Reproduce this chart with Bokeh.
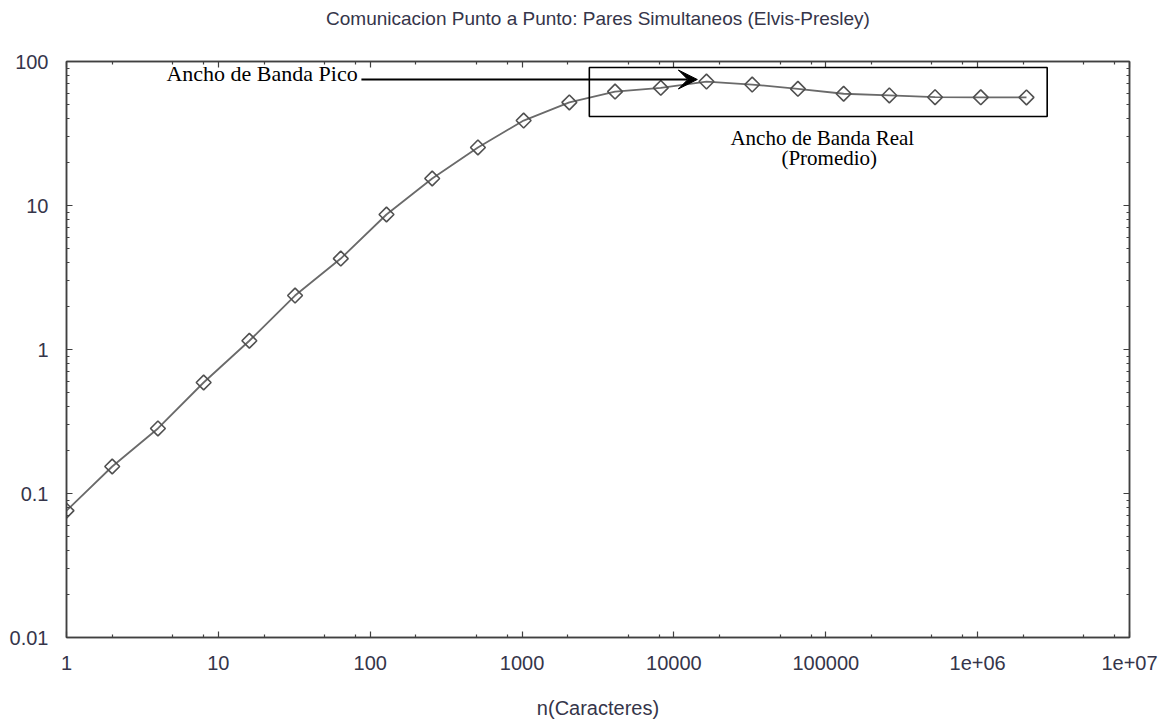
import math
from bokeh.plotting import figure
from bokeh.models import FixedTicker, LogAxis, BoxAnnotation, Arrow, VeeHead, Label, Title
from bokeh.embed import file_html
from bokeh.resources import INLINE

# ---- data ----
sizes = [1, 2, 4, 8, 16, 32, 64, 128, 256, 512, 1024, 2048, 4096, 8192,
         16384, 32768, 65536, 131072, 262144, 524288, 1048576, 2097152]
bandwidth = [0.076, 0.154, 0.283, 0.59, 1.15, 2.37, 4.28, 8.66, 15.4, 25.3,
             38.9, 52.0, 61.8, 65.6, 72.6, 69.2, 64.6, 59.7, 58.1, 56.5,
             56.4, 56.3]

x_ticks = [1, 10, 100, 1000, 10000, 100000, 1000000, 10000000]
x_tick_labels = ["1", "10", "100", "1000", "10000", "100000", "1e+06", "1e+07"]
y_ticks = [0.01, 0.1, 1, 10, 100]
y_tick_labels = ["0.01", "0.1", "1", "10", "100"]

title_text = "Comunicacion Punto a Punto: Pares Simultaneos (Elvis-Presley)"
x_label = "n(Caracteres)"
peak_label = "Ancho de Banda Pico"
real_label_1 = "Ancho de Banda Real"
real_label_2 = "(Promedio)"

# annotation anchor points (data coordinates)
peak_text_pos = (4.55, 83.0)
arrow_start = (87.5, 75.0)
arrow_end = (14260, 75.0)
box_x = (2773, 2870000)
box_y = (41.5, 90.9)
real1_pos = (94800, 29.2)
real2_pos = (105400, 21.5)

x_minor = [m * d for d in x_ticks[:-1] for m in (2, 5, 8)]
y_minor = [m * d for d in y_ticks[:-1] for m in range(2, 10)]

AX = "#404040"
TXT = "#35354a"

p = figure(frame_width=1063, frame_height=576,
           x_axis_type="log", y_axis_type="log",
           x_range=(1, 1e7), y_range=(0.01, 100),
           output_backend="svg", toolbar_location=None,
           min_border_left=66, min_border_right=30,
           min_border_top=61, min_border_bottom=85,
           background_fill_color="white", border_fill_color="white")

p.title.text = title_text
p.title.align = "center"
p.title.vertical_align = "bottom"
p.title.text_font = "Liberation Sans"
p.title.text_font_size = "19px"
p.title.text_font_style = "normal"
p.title.text_color = TXT
p.title.standoff = 0

p.xgrid.visible = False
p.ygrid.visible = False
p.outline_line_color = AX
p.outline_line_width = 1.5


def style_axis(ax, show_labels=True):
    ax.axis_line_color = AX
    ax.axis_line_width = 1.5
    ax.major_tick_in = 6
    ax.major_tick_out = 0
    ax.minor_tick_in = 3
    ax.minor_tick_out = 0
    ax.major_tick_line_color = AX
    ax.minor_tick_line_color = AX
    ax.major_tick_line_width = 1.2
    ax.minor_tick_line_width = 1.2
    if show_labels:
        ax.major_label_text_font = "Liberation Sans"
        ax.major_label_text_font_size = "20px"
        ax.major_label_text_color = TXT
        ax.major_label_standoff = 18
    else:
        ax.major_label_text_font_size = "1px"
        ax.major_label_text_color = None
        ax.major_label_standoff = 0


p.xaxis.ticker = FixedTicker(ticks=x_ticks, minor_ticks=x_minor)
p.yaxis.ticker = FixedTicker(ticks=y_ticks, minor_ticks=y_minor)
p.xaxis.major_label_overrides = {t: l for t, l in zip(x_ticks, x_tick_labels)}
p.yaxis.major_label_overrides = {t: l for t, l in zip(y_ticks, y_tick_labels)}
style_axis(p.xaxis[0])
style_axis(p.yaxis[0])
p.xaxis.axis_label = x_label
p.xaxis.axis_label_text_font = "Liberation Sans"
p.xaxis.axis_label_text_font_size = "20px"
p.xaxis.axis_label_text_font_style = "normal"
p.xaxis.axis_label_text_color = TXT
p.xaxis.axis_label_standoff = 24

top_ax = LogAxis(ticker=FixedTicker(ticks=x_ticks, minor_ticks=x_minor))
style_axis(top_ax, show_labels=False)
p.add_layout(top_ax, "above")
# blank spacer between the top axis and the title
p.add_layout(Title(text=" ", text_font_size="13px", standoff=16), "above")
right_ax = LogAxis(ticker=FixedTicker(ticks=y_ticks, minor_ticks=y_minor))
style_axis(right_ax, show_labels=False)
p.add_layout(right_ax, "right")

# series
p.line(sizes, bandwidth, line_color="#6a6a6a", line_width=1.8)
p.scatter(sizes, bandwidth, marker="square", angle=math.pi / 4, size=10.5,
          fill_color=None, line_color="#505050", line_width=1.6)

# annotations
p.add_layout(BoxAnnotation(left=box_x[0], right=box_x[1],
                           bottom=box_y[0], top=box_y[1],
                           fill_alpha=0, line_color="black", line_alpha=1.0,
                           line_width=1.6))
p.add_layout(Arrow(end=VeeHead(size=19, fill_color="black", line_color="black"),
                   x_start=arrow_start[0], y_start=arrow_start[1],
                   x_end=arrow_end[0], y_end=arrow_end[1],
                   line_color="black", line_width=2))

serif = dict(text_font="Liberation Serif", text_color="black",
             text_baseline="alphabetic")
p.add_layout(Label(x=peak_text_pos[0], y=peak_text_pos[1], text=peak_label,
                   text_align="left", text_font_size="22px", **serif))
p.add_layout(Label(x=real1_pos[0], y=real1_pos[1], text=real_label_1,
                   text_align="center", text_font_size="21px", **serif))
p.add_layout(Label(x=real2_pos[0], y=real2_pos[1], text=real_label_2,
                   text_align="center", text_font_size="21px", **serif))

open("out.html", "w").write(file_html(p, INLINE))
